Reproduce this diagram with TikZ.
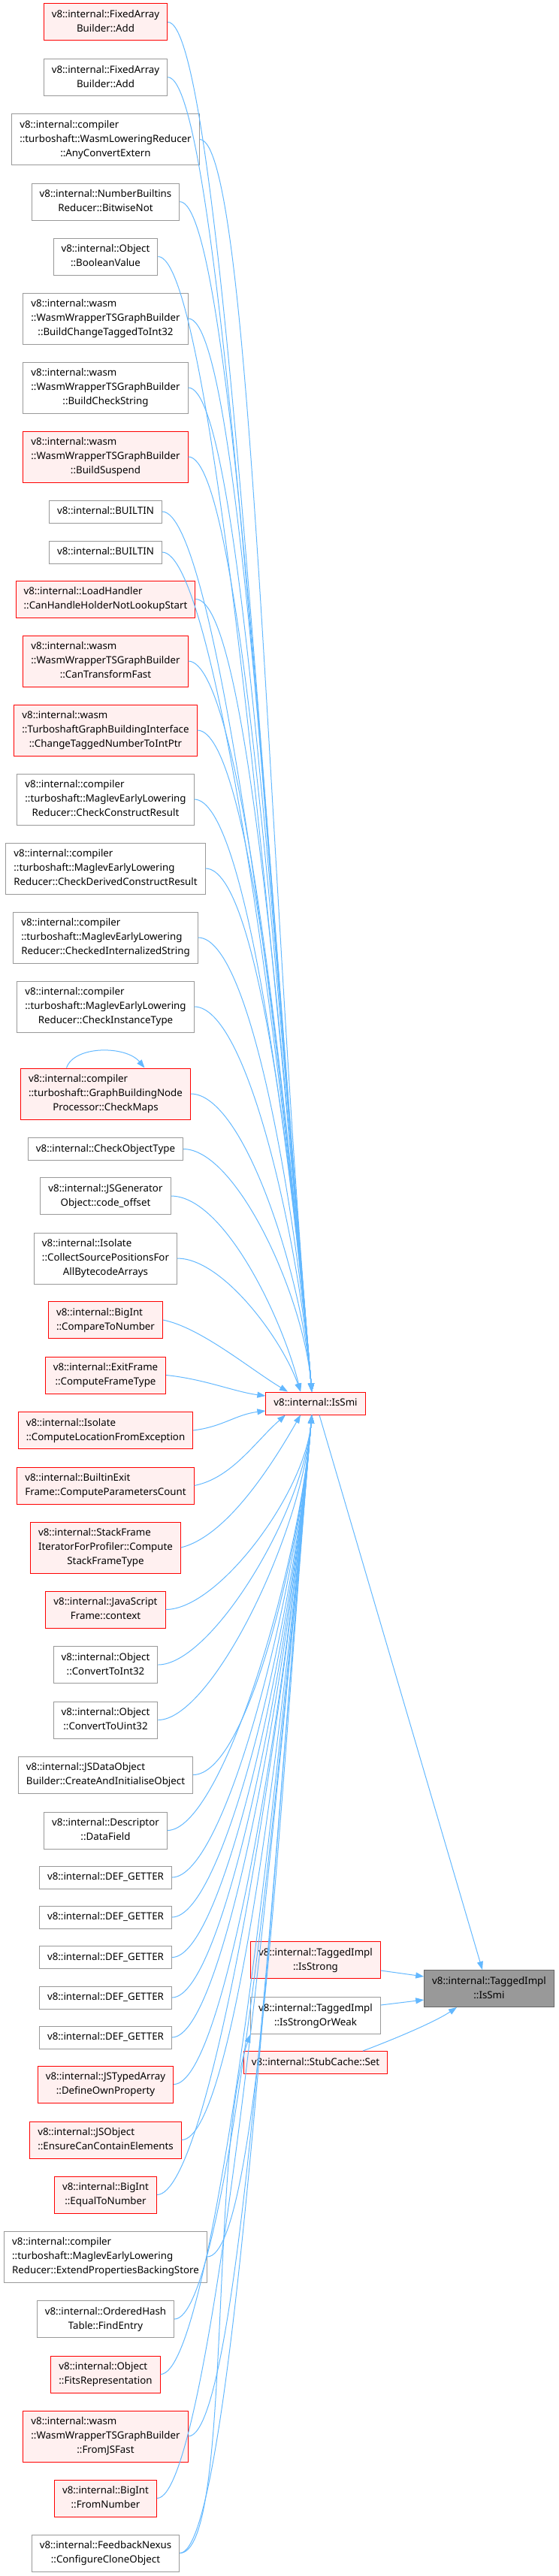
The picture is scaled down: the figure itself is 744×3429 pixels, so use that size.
\documentclass[tikz,border=0pt]{standalone}
\usepackage{fontspec}
\setmainfont{Noto Sans}
\usetikzlibrary{arrows.meta}
\definecolor{edgeblue}{HTML}{63B8FF}
\newcommand{\dxfont}{\fontsize{13.3}{19}\selectfont}
\newcommand{\dxone}[1]{\begin{tabular}{@{}c@{}}#1\end{tabular}}
\newcommand{\dxtwo}[2]{\begin{tabular}{@{}l@{}}#1\\\multicolumn{1}{@{}c@{}}{#2}\end{tabular}}
\newcommand{\dxthree}[3]{\begin{tabular}{@{}l@{}}#1\\#2\\\multicolumn{1}{@{}c@{}}{#3}\end{tabular}}

\begin{document}
\begin{tikzpicture}[x=1pt,y=1pt]
\tikzset{
  callnode/.style={rectangle,draw=black!40,fill=white,line width=1pt,inner xsep=10.5pt,inner ysep=5.5pt,font=\dxfont},
  warnnode/.style={callnode,draw=red,fill=red!6},
  mainnode/.style={callnode,draw=black!60,fill=black!40},
  calledge/.style={-{Triangle[length=11pt,width=8pt]},draw=edgeblue,line width=1pt}
}
\useasboundingbox (0,0) rectangle (744,-3429);
\node[warnnode] (n_fabadd_a) at (140.5,-29.3) {\dxtwo{v8::internal::FixedArray}{Builder::Add}};
\node[callnode] (n_fabadd_b) at (140.5,-102.7) {\dxtwo{v8::internal::FixedArray}{Builder::Add}};
\node[callnode] (n_anyconv) at (140.5,-185.5) {\dxthree{v8::internal::compiler}{::turboshaft::WasmLoweringReducer}{::AnyConvertExtern}};
\node[callnode] (n_bitnot) at (140.5,-268.5) {\dxtwo{v8::internal::NumberBuiltins}{Reducer::BitwiseNot}};
\node[callnode] (n_boolval) at (140.5,-341.5) {\dxtwo{v8::internal::Object}{::BooleanValue}};
\node[callnode] (n_buildchg) at (140.5,-424) {\dxthree{v8::internal::wasm}{::WasmWrapperTSGraphBuilder}{::BuildChangeTaggedToInt32}};
\node[callnode] (n_buildchk) at (140.5,-516) {\dxthree{v8::internal::wasm}{::WasmWrapperTSGraphBuilder}{::BuildCheckString}};
\node[warnnode] (n_buildsus) at (140.5,-608) {\dxthree{v8::internal::wasm}{::WasmWrapperTSGraphBuilder}{::BuildSuspend}};
\node[callnode] (n_builtin_a) at (140.5,-681) {\dxone{v8::internal::BUILTIN}};
\node[callnode] (n_builtin_b) at (140.5,-735) {\dxone{v8::internal::BUILTIN}};
\node[warnnode] (n_canhandle) at (140.5,-797.5) {\dxtwo{v8::internal::LoadHandler}{::CanHandleHolderNotLookupStart}};
\node[warnnode] (n_cantrans) at (140.5,-880) {\dxthree{v8::internal::wasm}{::WasmWrapperTSGraphBuilder}{::CanTransformFast}};
\node[warnnode] (n_chgtagged) at (140.5,-972) {\dxthree{v8::internal::wasm}{::TurboshaftGraphBuildingInterface}{::ChangeTaggedNumberToIntPtr}};
\node[callnode] (n_chkcons) at (140.5,-1064) {\dxthree{v8::internal::compiler}{::turboshaft::MaglevEarlyLowering}{Reducer::CheckConstructResult}};
\node[callnode] (n_chkderived) at (140.5,-1156) {\dxthree{v8::internal::compiler}{::turboshaft::MaglevEarlyLowering}{Reducer::CheckDerivedConstructResult}};
\node[callnode] (n_chkintern) at (140.5,-1248) {\dxthree{v8::internal::compiler}{::turboshaft::MaglevEarlyLowering}{Reducer::CheckedInternalizedString}};
\node[callnode] (n_chkinst) at (140.5,-1340) {\dxthree{v8::internal::compiler}{::turboshaft::MaglevEarlyLowering}{Reducer::CheckInstanceType}};
\node[warnnode] (n_chkmaps) at (140.5,-1456) {\dxthree{v8::internal::compiler}{::turboshaft::GraphBuildingNode}{Processor::CheckMaps}};
\node[callnode] (n_chkobj) at (140.5,-1529.5) {\dxone{v8::internal::CheckObjectType}};
\node[callnode] (n_codeoff) at (140.5,-1592) {\dxtwo{v8::internal::JSGenerator}{Object::code\_offset}};
\node[callnode] (n_collect) at (140.5,-1675) {\dxthree{v8::internal::Isolate}{::CollectSourcePositionsFor}{AllBytecodeArrays}};
\node[warnnode] (n_cmpnum) at (140.5,-1757) {\dxtwo{v8::internal::BigInt}{::CompareToNumber}};
\node[warnnode] (n_frametype) at (140.5,-1830.5) {\dxtwo{v8::internal::ExitFrame}{::ComputeFrameType}};
\node[warnnode] (n_location) at (140.5,-1904) {\dxtwo{v8::internal::Isolate}{::ComputeLocationFromException}};
\node[warnnode] (n_paramcnt) at (140.5,-1977.5) {\dxtwo{v8::internal::BuiltinExit}{Frame::ComputeParametersCount}};
\node[warnnode] (n_stacktype) at (140.5,-2060) {\dxthree{v8::internal::StackFrame}{IteratorForProfiler::Compute}{StackFrameType}};
\node[warnnode] (n_context) at (140.5,-2142.5) {\dxtwo{v8::internal::JavaScript}{Frame::context}};
\node[callnode] (n_toint) at (140.5,-2216) {\dxtwo{v8::internal::Object}{::ConvertToInt32}};
\node[callnode] (n_touint) at (140.5,-2289.5) {\dxtwo{v8::internal::Object}{::ConvertToUint32}};
\node[callnode] (n_createinit) at (140.5,-2362.5) {\dxtwo{v8::internal::JSDataObject}{Builder::CreateAndInitialiseObject}};
\node[callnode] (n_datafield) at (140.5,-2436.5) {\dxtwo{v8::internal::Descriptor}{::DataField}};
\node[callnode] (n_getter_a) at (140.5,-2499) {\dxone{v8::internal::DEF\_GETTER}};
\node[callnode] (n_getter_b) at (140.5,-2552) {\dxone{v8::internal::DEF\_GETTER}};
\node[callnode] (n_getter_c) at (140.5,-2605.5) {\dxone{v8::internal::DEF\_GETTER}};
\node[callnode] (n_getter_d) at (140.5,-2659) {\dxone{v8::internal::DEF\_GETTER}};
\node[callnode] (n_getter_e) at (140.5,-2712) {\dxone{v8::internal::DEF\_GETTER}};
\node[warnnode] (n_defown) at (140.5,-2774.5) {\dxtwo{v8::internal::JSTypedArray}{::DefineOwnProperty}};
\node[warnnode] (n_ensure) at (140.5,-2848.5) {\dxtwo{v8::internal::JSObject}{::EnsureCanContainElements}};
\node[warnnode] (n_eqnum) at (140.5,-2921.5) {\dxtwo{v8::internal::BigInt}{::EqualToNumber}};
\node[callnode] (n_extend) at (140.5,-3004) {\dxthree{v8::internal::compiler}{::turboshaft::MaglevEarlyLowering}{Reducer::ExtendPropertiesBackingStore}};
\node[callnode] (n_findentry) at (140.5,-3087) {\dxtwo{v8::internal::OrderedHash}{Table::FindEntry}};
\node[warnnode] (n_fitsrep) at (140.5,-3160.5) {\dxtwo{v8::internal::Object}{::FitsRepresentation}};
\node[warnnode] (n_fromjs) at (140.5,-3243) {\dxthree{v8::internal::wasm}{::WasmWrapperTSGraphBuilder}{::FromJSFast}};
\node[warnnode] (n_fromnum) at (140.5,-3325.5) {\dxtwo{v8::internal::BigInt}{::FromNumber}};
\node[callnode] (n_clone) at (140.5,-3398.5) {\dxtwo{v8::internal::FeedbackNexus}{::ConfigureCloneObject}};
\node[warnnode] (n_issmi) at (420,-1868) {\dxone{v8::internal::IsSmi}};
\node[warnnode] (n_isstrong) at (420,-2609) {\dxtwo{v8::internal::TaggedImpl}{::IsStrong}};
\node[callnode] (n_strongweak) at (420,-2683) {\dxtwo{v8::internal::TaggedImpl}{::IsStrongOrWeak}};
\node[warnnode] (n_stubset) at (420,-2745.5) {\dxone{v8::internal::StubCache::Set}};
\node[mainnode] (n_taggedsmi) at (651,-2647) {\dxtwo{v8::internal::TaggedImpl}{::IsSmi}};
% callers above IsSmi
\draw[calledge] (n_fabadd_a.east) .. controls +(70,0) and +(-64,730) .. ([xshift=-5pt]n_issmi.north);
\draw[calledge] (n_fabadd_b.east) .. controls +(70,0) and +(-61,700) .. ([xshift=-5pt]n_issmi.north);
\draw[calledge] (n_anyconv.east) .. controls +(70,0) and +(-58,667) .. ([xshift=-5pt]n_issmi.north);
\draw[calledge] (n_bitnot.east) .. controls +(70,0) and +(-55,634) .. ([xshift=-5pt]n_issmi.north);
\draw[calledge] (n_boolval.east) .. controls +(70,0) and +(-53,605) .. ([xshift=-5pt]n_issmi.north);
\draw[calledge] (n_buildchg.east) .. controls +(70,0) and +(-50,572) .. ([xshift=-5pt]n_issmi.north);
\draw[calledge] (n_buildchk.east) .. controls +(70,0) and +(-47,535) .. ([xshift=-5pt]n_issmi.north);
\draw[calledge] (n_buildsus.east) .. controls +(70,0) and +(-43,498) .. ([xshift=-5pt]n_issmi.north);
\draw[calledge] (n_builtin_a.east) .. controls +(70,0) and +(-41,469) .. ([xshift=-5pt]n_issmi.north);
\draw[calledge] (n_builtin_b.east) .. controls +(70,0) and +(-39,447) .. ([xshift=-5pt]n_issmi.north);
\draw[calledge] (n_canhandle.east) .. controls +(70,0) and +(-37,422) .. ([xshift=-5pt]n_issmi.north);
\draw[calledge] (n_cantrans.east) .. controls +(70,0) and +(-34,389) .. ([xshift=-5pt]n_issmi.north);
\draw[calledge] (n_chgtagged.east) .. controls +(70,0) and +(-31,352) .. ([xshift=-5pt]n_issmi.north);
\draw[calledge] (n_chkcons.east) .. controls +(70,0) and +(-28,316) .. ([xshift=-5pt]n_issmi.north);
\draw[calledge] (n_chkderived.east) .. controls +(70,0) and +(-24,279) .. ([xshift=-5pt]n_issmi.north);
\draw[calledge] (n_chkintern.east) .. controls +(70,0) and +(-21,242) .. ([xshift=-5pt]n_issmi.north);
\draw[calledge] (n_chkinst.east) .. controls +(70,0) and +(-18,205) .. ([xshift=-5pt]n_issmi.north);
\draw[calledge] (n_chkmaps.east) .. controls +(70,0) and +(-14,159) .. ([xshift=-5pt]n_issmi.north);
\draw[calledge] (n_chkobj.east) .. controls +(70,0) and +(-11,129) .. ([xshift=-5pt]n_issmi.north);
\draw[calledge] (n_codeoff.east) .. controls +(70,0) and +(-25,100) .. ([xshift=-20pt]n_issmi.north);
\draw[calledge] (n_collect.east) .. controls +(60,0) and +(-25,71) .. ([xshift=-20pt]n_issmi.north);
\draw[calledge] ([xshift=-52pt]n_chkmaps.north) .. controls +(10,30) and +(-25,30) .. ([xshift=52pt]n_chkmaps.north);
% callers close to IsSmi
\draw[calledge] (n_cmpnum.east) .. controls +(50,-10) and +(-50,30) .. ([xshift=-37pt]n_issmi.north);
\draw[calledge] (n_frametype.east) .. controls +(50,-5) and +(-40,5) .. ([yshift=10pt]n_issmi.west);
\draw[calledge] (n_location.east) .. controls +(40,5) and +(-40,-5) .. ([yshift=-10pt]n_issmi.west);
\draw[calledge] (n_paramcnt.east) .. controls +(50,10) and +(-40,-35) .. ([xshift=-40pt]n_issmi.south);
\draw[calledge] (n_stacktype.east) .. controls +(60,15) and +(-40,-70) .. ([xshift=-20pt]n_issmi.south);
% callers below IsSmi
\draw[calledge] (n_context.east) .. controls +(70,0) and +(-9,-104) .. ([xshift=-5pt]n_issmi.south);
\draw[calledge] (n_toint.east) .. controls +(70,0) and +(-12,-133) .. ([xshift=-5pt]n_issmi.south);
\draw[calledge] (n_touint.east) .. controls +(70,0) and +(-14,-163) .. ([xshift=-5pt]n_issmi.south);
\draw[calledge] (n_createinit.east) .. controls +(70,0) and +(-17,-192) .. ([xshift=-5pt]n_issmi.south);
\draw[calledge] (n_datafield.east) .. controls +(70,0) and +(-19,-221) .. ([xshift=-5pt]n_issmi.south);
\draw[calledge] (n_getter_a.east) .. controls +(70,0) and +(-22,-246) .. ([xshift=-5pt]n_issmi.south);
\draw[calledge] (n_getter_b.east) .. controls +(70,0) and +(-23,-268) .. ([xshift=-5pt]n_issmi.south);
\draw[calledge] (n_getter_c.east) .. controls +(70,0) and +(-25,-289) .. ([xshift=-5pt]n_issmi.south);
\draw[calledge] (n_getter_d.east) .. controls +(70,0) and +(-27,-310) .. ([xshift=-5pt]n_issmi.south);
\draw[calledge] (n_getter_e.east) .. controls +(70,0) and +(-29,-332) .. ([xshift=-5pt]n_issmi.south);
\draw[calledge] (n_defown.east) .. controls +(70,0) and +(-31,-357) .. ([xshift=-5pt]n_issmi.south);
\draw[calledge] (n_ensure.east) .. controls +(70,0) and +(-34,-386) .. ([xshift=-5pt]n_issmi.south);
\draw[calledge] (n_eqnum.east) .. controls +(70,0) and +(-36,-415) .. ([xshift=-5pt]n_issmi.south);
\draw[calledge] (n_extend.east) .. controls +(70,0) and +(-39,-448) .. ([xshift=-5pt]n_issmi.south);
\draw[calledge] (n_findentry.east) .. controls +(70,0) and +(-42,-482) .. ([xshift=-5pt]n_issmi.south);
\draw[calledge] (n_fitsrep.east) .. controls +(70,0) and +(-45,-511) .. ([xshift=-5pt]n_issmi.south);
\draw[calledge] (n_fromjs.east) .. controls +(70,0) and +(-48,-544) .. ([xshift=-5pt]n_issmi.south);
\draw[calledge] (n_fromnum.east) .. controls +(70,0) and +(-50,-577) .. ([xshift=-5pt]n_issmi.south);
\draw[calledge] (n_clone.east) .. controls +(70,0) and +(-53,-606) .. ([xshift=-5pt]n_issmi.south);
\draw[calledge] (n_clone.east) .. controls +(70,0) and +(-55,-155) .. (n_strongweak.south west);
% into TaggedImpl::IsSmi
\draw[calledge] ([xshift=5pt]n_issmi.south) -- ([xshift=-9pt]n_taggedsmi.north);
\draw[calledge] ([yshift=-14pt]n_isstrong.east) -- ([yshift=16pt]n_taggedsmi.west);
\draw[calledge] ([yshift=14pt]n_strongweak.east) -- ([yshift=-15pt]n_taggedsmi.west);
\draw[calledge] ([xshift=63pt]n_stubset.north) .. controls +(40,15) and +(-30,-20) .. ([xshift=-43pt]n_taggedsmi.south);
\end{tikzpicture}
\end{document}
